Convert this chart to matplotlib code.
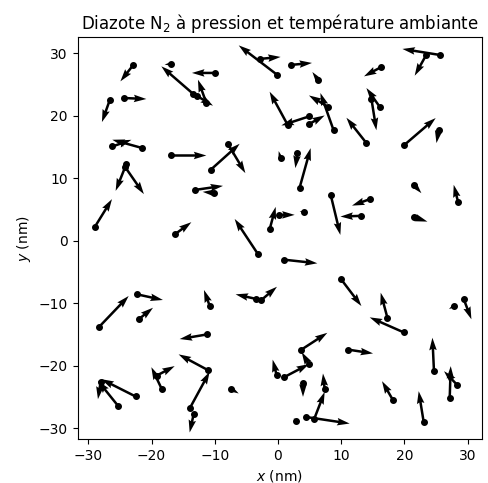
import numpy as np
import matplotlib
matplotlib.use('Agg')
import matplotlib.pyplot as plt

# positions des molécules (nm)
x = [-22.94, -26.63, -24.41, -16.98, -13.45, -12.86, -11.33, -9.91, -0.09, -2.90,
     1.58, -21.46, -26.20, -16.87, -10.65, -7.91, -23.99, -24.15, -13.07, -10.17,
     -29.00, -16.23, -3.21, -1.31, 0.11, 4.11, 2.01, 6.33, 16.36, 25.59,
     23.48, 4.91, 4.91, 8.81, 7.91, 13.99, 16.09, 14.78, 19.89, 25.43,
     0.43, 3.07, 3.43, 21.52, 28.48, 8.34, 14.51, 13.09, 21.52,
     -28.32, -22.31, -21.99, -10.81, -3.42, -2.63, -11.17, -11.08, -13.97, -13.34,
     -18.35, -19.19, -22.52, -25.32, -28.05, -7.37, -0.21,
     0.95, 9.92, 17.31, 19.89, 27.85, 29.38, 3.59, 11.08, 24.68, 28.39,
     27.17, 18.20, 23.05, 0.90, 4.86, 3.96, 7.39, 5.70, 4.38, 2.91]
y = [28.09, 22.48, 22.87, 28.32, 23.56, 23.24, 22.07, 26.88, 26.55, 29.12,
     18.48, 14.86, 15.11, 13.67, 11.38, 15.50, 12.29, 11.78, 8.17, 7.69,
     2.20, 1.12, -2.04, 1.88, 4.17, 4.60, 28.16, 25.80, 27.84, 29.76,
     29.81, 19.92, 18.70, 17.68, 21.47, 15.66, 21.47, 22.76, 15.27, 17.71,
     13.19, 14.05, 8.54, 8.97, 6.30, 7.37, 6.68, 4.01, 3.80,
     -13.78, -8.54, -12.50, -10.37, -9.29, -9.46, -14.95, -20.67, -26.81, -27.72,
     -23.77, -21.55, -24.89, -26.36, -22.52, -23.72, -21.47,
     -3.00, -6.04, -12.29, -14.63, -10.37, -9.29, -17.47, -17.39, -20.83, -23.08,
     -25.11, -25.48, -28.96, -21.84, -19.71, -22.71, -23.77, -28.57, -28.16, -28.85]

# vitesses (déplacement affiché, nm)
vx = [-1.99, -1.22, 3.59, -0.95, -5.00, 2.58, -1.33, -3.70, -6.12, 3.32,
      -2.90, -4.75, 3.01, 5.54, 4.59, 2.75, -1.69, 2.94, 4.37, -1.74,
      2.74, 2.53, -3.64, 0.95, 2.53, -0.68, 3.37, -0.89, -2.75, -5.90,
      -1.85, -4.37, 2.48, -2.10, -3.01, -3.16, -2.10, 0.79, 5.06, -0.36,
      -0.32, -0.32, 1.74, 1.17, -0.68, 1.53, -2.80, -3.21, 2.12,
      4.70, 4.11, 2.22, -0.90, -3.28, 2.47, -4.38, -4.64, 3.16, -0.63,
      -1.68, 2.85, -5.43, -3.16, -0.43, 1.16, -0.63,
      5.28, 3.28, -1.06, -5.38, -0.79, 1.22, 4.22, 3.96, -0.25, -2.12,
      0.16, -1.74, -0.79, 4.00, -1.11, 0.00, -0.27, 1.69, 6.96, -0.43]
vy = [-2.56, -3.46, -0.16, -0.11, 4.38, -1.60, 3.73, 0.00, 4.74, 0.32,
      5.40, 1.33, 1.07, 0.00, 4.17, -4.65, -4.28, -4.29, 0.64, 0.16,
      4.49, 1.88, 5.56, 3.57, 0.00, 0.13, 0.32, 1.23, -1.51, 0.96,
      -3.37, -1.44, 1.38, 5.99, 1.81, 4.05, 3.00, -5.05, 4.39, -2.05,
      1.19, -2.40, 6.31, -1.33, 2.68, -6.41, -1.03, -0.11, -0.71,
      4.97, -0.91, 1.81, 2.52, 0.75, 2.13, -0.75, 2.52, 5.87, -2.93,
      3.57, 1.52, 2.77, 3.97, -2.80, -0.69, 2.48,
      -0.58, -4.38, 4.01, 2.40, -0.53, -3.25, 2.77, -0.61, 5.34, 2.24,
      5.08, 3.04, 4.92, 2.13, 1.92, -2.24, 2.56, 4.42, -1.06, 0.48]

fig = plt.figure(figsize=(4.88, 4.83), dpi=100)
ax = fig.add_axes([0.159, 0.091, 0.829, 0.832])

ax.quiver(x, y, vx, vy, angles='xy', scale_units='xy', scale=1,
          color='black', width=0.0062)
ax.scatter(x, y, s=16, color='black', zorder=3)

ax.set_xlim(-31.7, 32.3)
ax.set_ylim(-31.7, 32.6)
ax.set_xticks([-30, -20, -10, 0, 10, 20, 30])
ax.set_yticks([-30, -20, -10, 0, 10, 20, 30])
ax.set_xlabel('$x$ (nm)')
ax.set_ylabel('$y$ (nm)')
ax.set_title('Diazote N$_2$ à pression et température ambiante')

plt.savefig('out.png', dpi=100)
